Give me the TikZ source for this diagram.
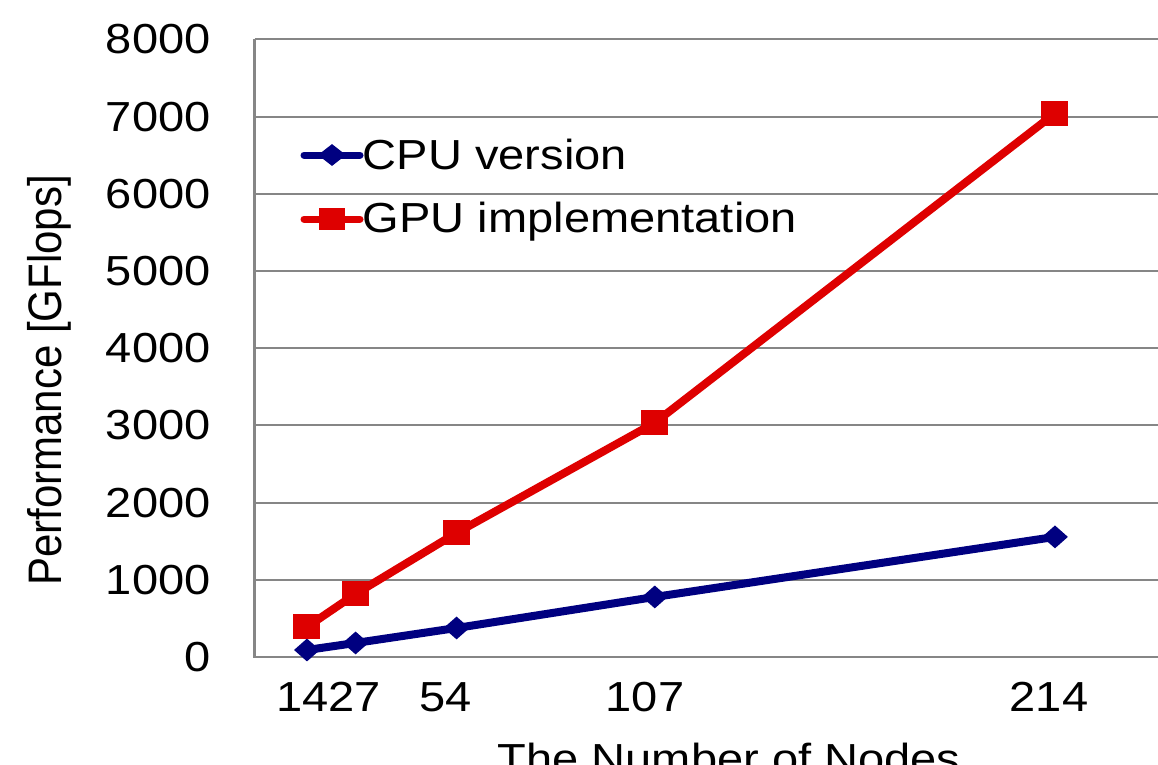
\documentclass[tikz,border=0pt]{standalone}
\usepackage{fontspec}
\setmainfont{Liberation Sans}[FakeStretch=1.12]
\newfontfamily\titlefont{Liberation Sans}
\usetikzlibrary{shapes.geometric}
\definecolor{colCPU}{RGB}{0, 0, 128}
\definecolor{colGPU}{RGB}{222, 0, 0}
\definecolor{colGrid}{RGB}{134, 134, 134}

\begin{document}
\begin{tikzpicture}[x=1pt, y=-1pt,
    every node/.style={font=\fontsize{42}{50}\selectfont, inner sep=0pt},
    gridline/.style={colGrid, line width=2pt},
    cpuline/.style={colCPU, line width=8pt, line join=round},
    gpuline/.style={colGPU, line width=8pt, line join=round},
    cpumark/.style={diamond, fill=colCPU, minimum width=26pt, minimum height=23pt},
    gpumark/.style={rectangle, fill=colGPU, minimum width=27pt, minimum height=25pt}]
    \useasboundingbox (0, 0) rectangle (1158, 764);

    % --- Plot area (data units) ---
    \begin{scope}[shift={(254.6, 657)}, x=3.74pt, y=0.0772pt]
        % Grid and axes
        \foreach \g in {1000, 2000, ..., 8000} {
            \draw[gridline] (0, \g) -- (241.6, \g);
        }
        \draw[colGrid, line width=2.5pt] (0, 8000) -- (0, 0) -- (241.6, 0);
        % Y tick labels
        \foreach \v in {0, 1000, ..., 8000} {
            \node[anchor=east] (ytick\v) at (-11.7, \v) {\v};
        }
        % Data points
        \foreach \n/\c/\g [count=\i] in {14/91/389, 27/182/817, 54/376/1608, 107/778/3035, 214/1556/7043} {
            \coordinate (c\i) at (\n, \c);
            \coordinate (g\i) at (\n, \g);
        }
    \end{scope}

    % --- CPU version ---
    \draw[cpuline] (c1) -- (c2) -- (c3) -- (c4) -- (c5);
    \foreach \i in {1, ..., 5} {
        \node[cpumark] (cpu\i) at (c\i) {};
    }

    % --- GPU implementation ---
    \draw[gpuline] (g1) -- (g2) -- (g3) -- (g4) -- (g5);
    \foreach \i in {1, ..., 5} {
        \node[gpumark] (gpu\i) at (g\i) {};
    }

    % --- X tick labels ---
    \foreach \lx/\lab in {303/14, 355/27, 446/54, 645/107, 1049/214} {
        \node (xtick\lab) at (\lx, 697) {\lab};
    }

    % --- Axis titles ---
    \node[rotate=90] (ytitle) at (49.5, 380.5) {\scalebox{1}[1.12]{\titlefont Performance [GFlops]}};
    \node[anchor=north] (xtitle) at (729, 743) {The Number of Nodes};

    % --- Legend ---
    \draw[cpuline, line width=7pt, line cap=round] (304, 155) -- (360, 155);
    \node[cpumark, minimum width=28pt, minimum height=22pt] (legcpu) at (332, 155) {};
    \node[anchor=base west] (legcputext) at (362.7, 169.5) {CPU version};
    \draw[gpuline, line width=7pt, line cap=round] (304, 219) -- (360, 219);
    \node[gpumark, minimum width=26pt, minimum height=22pt] (leggpu) at (332, 219) {};
    \node[anchor=base west] (leggputext) at (362.7, 232.5) {GPU implementation};
\end{tikzpicture}
\end{document}
